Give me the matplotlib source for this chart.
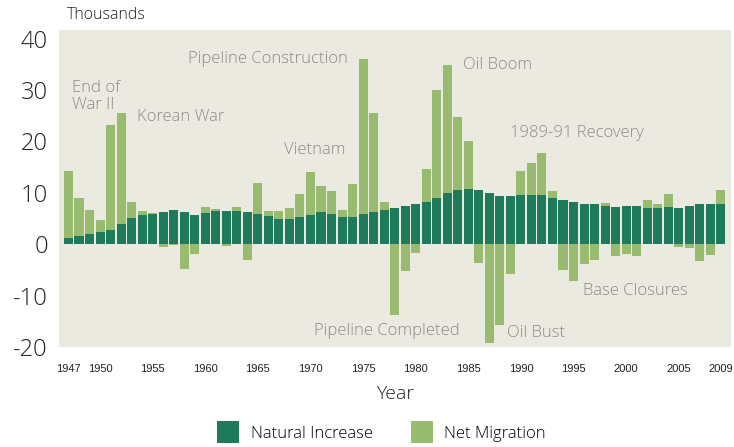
import numpy as np
import matplotlib.pyplot as plt

# Alaska population change components, thousands
years = list(range(1947, 2010))
natural = [1.2, 1.5, 1.9, 2.3, 2.7, 3.9, 5.0, 5.6, 5.8, 6.2,
           6.6, 6.2, 5.6, 6.0, 6.4, 6.4, 6.4, 6.2, 5.8, 5.4,
           4.9, 4.9, 5.2, 5.6, 6.2, 5.8, 5.2, 5.2, 5.8, 6.2,
           6.6, 7.0, 7.4, 7.8, 8.2, 8.9, 9.9, 10.5, 10.7, 10.5,
           9.9, 9.3, 9.3, 9.5, 9.5, 9.5, 8.9, 8.5, 8.2, 7.8,
           7.8, 7.4, 7.2, 7.4, 7.4, 7.0, 7.0, 7.2, 7.0, 7.4,
           7.8, 7.8, 7.8]
migration = [13.0, 7.5, 4.7, 2.4, 20.4, 21.7, 3.2, 0.8, 0.2, -0.5,
             -0.2, -4.8, -1.9, 1.2, 0.4, -0.3, 0.8, -3.0, 6.2, 1.0,
             1.5, 2.1, 4.5, 8.4, 5.1, 4.5, 1.4, 6.5, 30.3, 19.4,
             1.6, -13.7, -5.2, -1.7, 6.4, 21.2, 25.0, 14.3, 9.3, -3.6,
             -19.3, -15.7, -5.8, 4.7, 6.2, 8.2, 1.4, -5.0, -7.1, -3.8,
             -3.0, 0.6, -2.3, -1.9, -2.3, 1.5, 0.8, 2.5, -0.5, -0.7,
             -3.2, -2.1, 2.7]
tick_years = [1947, 1950, 1955, 1960, 1965, 1970, 1975, 1980, 1985,
              1990, 1995, 2000, 2005, 2009]
events = [("End of\nWar II", 1947.3, 31.9, "top"),
          ("Korean War", 1953.5, 24.7, "center"),
          ("Pipeline Construction", 1958.4, 36.1, "center"),
          ("Vietnam", 1967.5, 18.4, "center"),
          ("Oil Boom", 1984.5, 34.8, "center"),
          ("1989-91 Recovery", 1989.0, 21.7, "center"),
          ("Pipeline Completed", 1970.3, -16.9, "center"),
          ("Oil Bust", 1988.7, -17.3, "center"),
          ("Base Closures", 1995.9, -9.1, "center")]

dark = "#1f7a5c"
light = "#98bb6f"
bg = "#ebeae1"
gray = "#8c8c84"
ink = "#222222"

years = np.array(years)
natural = np.array(natural)
migration = np.array(migration)
bottoms = np.where(migration > 0, natural, 0)

fig = plt.figure(figsize=(7.34, 4.47), dpi=100)
ax = fig.add_axes([0.0804, 0.224, 0.916, 0.709])
ax.set_facecolor(bg)

ax.bar(years, natural, width=0.86, color=dark, label="Natural Increase")
ax.bar(years, migration, width=0.86, bottom=bottoms, color=light,
       label="Net Migration")

for txt, x, y, va in events:
    ax.text(x, y, txt, color=gray, fontsize=12, va=va, ha="left",
            family="Open Sans", fontweight="light", linespacing=1.05)

ax.set_xlim(1946.1, 2010)
ax.set_ylim(-20, 41.7)
ax.set_yticks([-20, -10, 0, 10, 20, 30, 40])
ax.set_yticklabels(["-20", "-10", "0", "10", "20", "30", "40"],
                   fontsize=17, family="Open Sans", fontweight="light",
                   color=ink)
ax.set_xticks(tick_years)
ax.set_xticklabels([str(t) for t in tick_years], fontsize=8,
                   family="Liberation Sans", color=ink)
ax.tick_params(axis="x", length=0, pad=12)
ax.tick_params(axis="y", length=0, pad=8)
for s in ax.spines.values():
    s.set_visible(False)

ax.set_xlabel("Year", fontsize=14, family="Open Sans", fontweight="light",
              color=ink, labelpad=8)
fig.text(0.091, 0.966, "Thousands", fontsize=11.5, family="Open Sans",
         fontweight="light", color=ink, va="center")

fig.legend(loc="lower center", bbox_to_anchor=(0.52, -0.025), ncol=2,
           frameon=False, handlelength=1.3, handleheight=1.65,
           columnspacing=2.3, handletextpad=0.7,
           prop={"family": "Open Sans", "weight": "light", "size": 12})

fig.savefig("out.png", dpi=100, facecolor="white")
